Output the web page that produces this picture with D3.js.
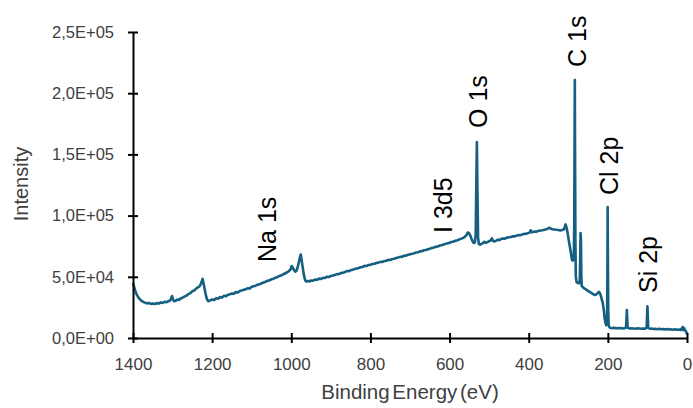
<!DOCTYPE html>
<html>
<head>
<meta charset="utf-8">
<script src="https://cdn.jsdelivr.net/npm/d3@7"></script>
<style>
  body { margin: 0; background: #fff; }
  svg { display: block; font-family: "Liberation Sans", Arial, sans-serif; }
</style>
</head>
<body>
<svg width="693" height="408"></svg>
<script>
// survey spectrum: [binding energy eV, counts]
const spectrum = [
  [1400,44900],[1397,41500],[1394,38200],[1391,35800],[1388,33900],[1384,32100],[1380,30700],[1375,29600],
  [1370,28900],[1365,28300],[1360,28600],[1355,27900],[1350,28200],[1345,27800],[1340,28500],[1335,28100],
  [1330,29100],[1325,28600],[1320,29600],[1315,29300],[1310,30200],[1306,30600],[1303,32800],[1301,34200],
  [1299,31500],[1296,30100],[1292,30500],[1288,31400],[1284,31100],[1280,32300],[1275,32900],[1270,33800],
  [1265,34600],[1260,35900],[1255,36700],[1250,38200],[1245,38900],[1240,40600],[1236,41300],[1232,42200],
  [1229,43800],[1226,46500],[1224,48300],[1222,45200],[1219,40100],[1216,35200],[1213,31600],[1210,30100],
  [1205,30700],[1200,31400],[1195,31100],[1190,32500],[1185,32200],[1180,33400],[1175,33100],[1170,34500],
  [1165,34200],[1160,35400],[1155,35800],[1150,36300],[1145,36100],[1140,37500],[1135,37200],[1130,38400],
  [1125,38900],[1120,39400],[1115,39800],[1110,40700],[1105,40500],[1100,41900],[1095,42300],[1090,42700],
  [1085,43600],[1080,43900],[1075,44800],[1070,45300],[1065,45900],[1060,46800],[1055,47100],[1050,48000],
  [1045,48500],[1040,49300],[1035,49800],[1030,50700],[1025,51200],[1020,52100],[1015,52900],[1010,53700],
  [1006,54600],[1002,56000],[999,58800],[996,57200],[993,55400],[990,54300],[987,54900],[984,57600],
  [981,61800],[978,66200],[976,68200],[974,63800],[971,57500],[968,51200],[965,47300],[962,46100],
  [958,46500],[954,46200],[950,47000],[945,46800],[940,47800],[935,47500],[930,48500],[925,48300],
  [920,49200],[915,49000],[910,50100],[905,49800],[900,50700],[895,51000],[890,51400],[885,52200],
  [880,52100],[875,53000],[870,53400],[865,53800],[860,54600],[855,54500],[850,55400],[845,55800],
  [840,56300],[835,56800],[830,57100],[825,57800],[820,58000],[815,58900],[810,58800],[805,59700],
  [800,59900],[795,60500],[790,60700],[785,61300],[780,61600],[775,62200],[770,62100],[765,62900],
  [760,63100],[755,63800],[750,63700],[745,64600],[740,64800],[735,65400],[730,65700],[725,66300],
  [720,66400],[715,67200],[710,67300],[705,68000],[700,68300],[695,68900],[690,69100],[685,69900],
  [680,70000],[675,70800],[670,70900],[665,71700],[660,71900],[655,72500],[650,72800],[645,73600],
  [640,73800],[635,74500],[630,74700],[625,75500],[620,75800],[615,76400],[610,76900],[605,77400],
  [600,77700],[595,78500],[590,78800],[585,79400],[580,79900],[575,80600],[570,81200],[565,81800],
  [561,82900],[557,84300],[554,86200],[551,85700],[548,84000],[545,81500],[542,79200],[539,77600],
  [536,78100],[534,84000],[532.5,125000],[531,160000],[529.5,118000],[528,82000],[526,76800],[523,76200],
  [520,76900],[516,77400],[512,78600],[508,77800],[504,78300],[500,79100],[496,79700],[493,81400],
  [490,79200],[486,78900],[482,79600],[478,80300],[474,80000],[470,80900],[465,81300],[460,81100],
  [455,82000],[450,82300],[445,82500],[440,83100],[435,83000],[430,83700],[425,84100],[420,84000],
  [415,84800],[410,85100],[405,85300],[400,85900],[397,86300],[395,88000],[393,86400],[390,86500],
  [385,87000],[380,86900],[375,87500],[370,87800],[365,88000],[360,88400],[355,88800],[350,89700],
  [347,90100],[344,89300],[340,88900],[335,88700],[330,88400],[325,88200],[320,87900],[316,88200],
  [312,88600],[309,90400],[307,92800],[305,91000],[302,86500],[299,80200],[296,74500],[293,68800],
  [291,64500],[289,63200],[287,64000],[286,66500],[285,90000],[284,170000],[283.5,210800],[283,160000],
  [282,80000],[281,50000],[279,45800],[276,44900],[273,44700],[271,47000],[270,62000],[269,85800],
  [268,80000],[267,50000],[266,42500],[263,41400],[260,40600],[256,39900],[252,38800],[248,38100],
  [244,37300],[240,36400],[236,35600],[232,35100],[229,35800],[226,36600],[223,37700],[221,37200],
  [219,35800],[216,32400],[213,28700],[210,22300],[208,15800],[206,12200],[204,10400],[202,14000],
  [201,60000],[200.5,107000],[200,70000],[199,22000],[198,10500],[196,8700],[193,8200],[190,8000],
  [185,8300],[180,8100],[175,7900],[170,8200],[165,8000],[160,7800],[157,8100],[154,8600],
  [153,15000],[152,22800],[151,15500],[150,8400],[147,8000],[144,7700],[140,8000],[135,7800],
  [130,7600],[125,7900],[120,7700],[115,7500],[110,7800],[106,7600],[102,8400],[101,17000],
  [100,25800],[99,17500],[98,8300],[95,7800],[92,7500],[89,7700],[85,7400],[80,7600],
  [75,7200],[70,7500],[65,7100],[60,7400],[55,7000],[50,7300],[45,6900],[40,7100],
  [35,6800],[30,7200],[25,6700],[20,6900],[16,6500],[13,7600],[11,9000],[9,6300],
  [7,8000],[5,6200],[3,5700],[1,4200],[0,3000]
];

const xTicks = [1400, 1200, 1000, 800, 600, 400, 200, 0];
const yTicks = [0, 50000, 100000, 150000, 200000, 250000];

// peak labels, anchored (start of the rotated text) at [eV, counts]
const peakNames = ["Na 1s", "I 3d5", "O 1s", "C 1s", "Cl 2p", "Si 2p"];
const peakAnchor = [[1039, 62100], [594, 85800], [505, 171600], [255, 221400], [174, 116800], [76, 36800]];

const svg = d3.select("svg");
const x = d3.scaleLinear().domain([1400, 0]).range([133, 687]);
const y = d3.scaleLinear().domain([0, 250000]).range([338, 32]);

// 2,5E+05 style labels
function sci(d) {
  if (d === 0) return "0,0E+00";
  const e = Math.floor(Math.log10(d));
  const m = (d / Math.pow(10, e)).toFixed(1).replace(".", ",");
  return `${m}E+${String(e).padStart(2, "0")}`;
}

const line = d3.line()
  .x(d => x(d[0]))
  .y(d => y(d[1]));

svg.append("path")
  .datum(spectrum)
  .attr("fill", "none")
  .attr("stroke", "#156082")
  .attr("stroke-width", 2.6)
  .attr("stroke-linejoin", "round")
  .attr("d", line);

const yAxis = svg.append("g")
  .attr("transform", `translate(${x(1400)},0)`)
  .call(d3.axisLeft(y).tickValues(yTicks).tickFormat(sci).tickSizeInner(5).tickSizeOuter(0).tickPadding(14));

const xAxis = svg.append("g")
  .attr("transform", `translate(0,${y(0)})`)
  .call(d3.axisBottom(x).tickValues(xTicks).tickFormat(d => String(d)).tickSizeInner(5).tickSizeOuter(0).tickPadding(15));

// ticks cross the axis line
yAxis.selectAll(".tick line").attr("x1", -5).attr("x2", 5);
xAxis.selectAll(".tick line").attr("y1", -5).attr("y2", 5);

[yAxis, xAxis].forEach(g => {
  g.attr("font-family", null);
  g.select(".domain").attr("stroke", "#000").attr("stroke-width", 2);
  g.selectAll(".tick line").attr("stroke", "#000").attr("stroke-width", 2);
  g.selectAll(".tick text").attr("fill", "#404040");
});
yAxis.style("font-size", "16.5px");
xAxis.style("font-size", "17px");

svg.append("text")
  .attr("x", 410)
  .attr("y", 399)
  .attr("text-anchor", "middle")
  .style("font-size", "20.5px")
  .attr("word-spacing", -3)
  .attr("fill", "#404040")
  .text("Binding Energy (eV)");

svg.append("text")
  .attr("transform", "translate(28,184) rotate(-90)")
  .attr("text-anchor", "middle")
  .style("font-size", "20px")
  .attr("fill", "#404040")
  .text("Intensity");

svg.append("g")
  .selectAll("text")
  .data(peakNames)
  .join("text")
  .attr("transform", (d, i) => `translate(${x(peakAnchor[i][0])},${y(peakAnchor[i][1])}) rotate(-90)`)
  .style("font-size", "25px")
  .attr("fill", "#000")
  .text(d => d);
</script>
</body>
</html>
